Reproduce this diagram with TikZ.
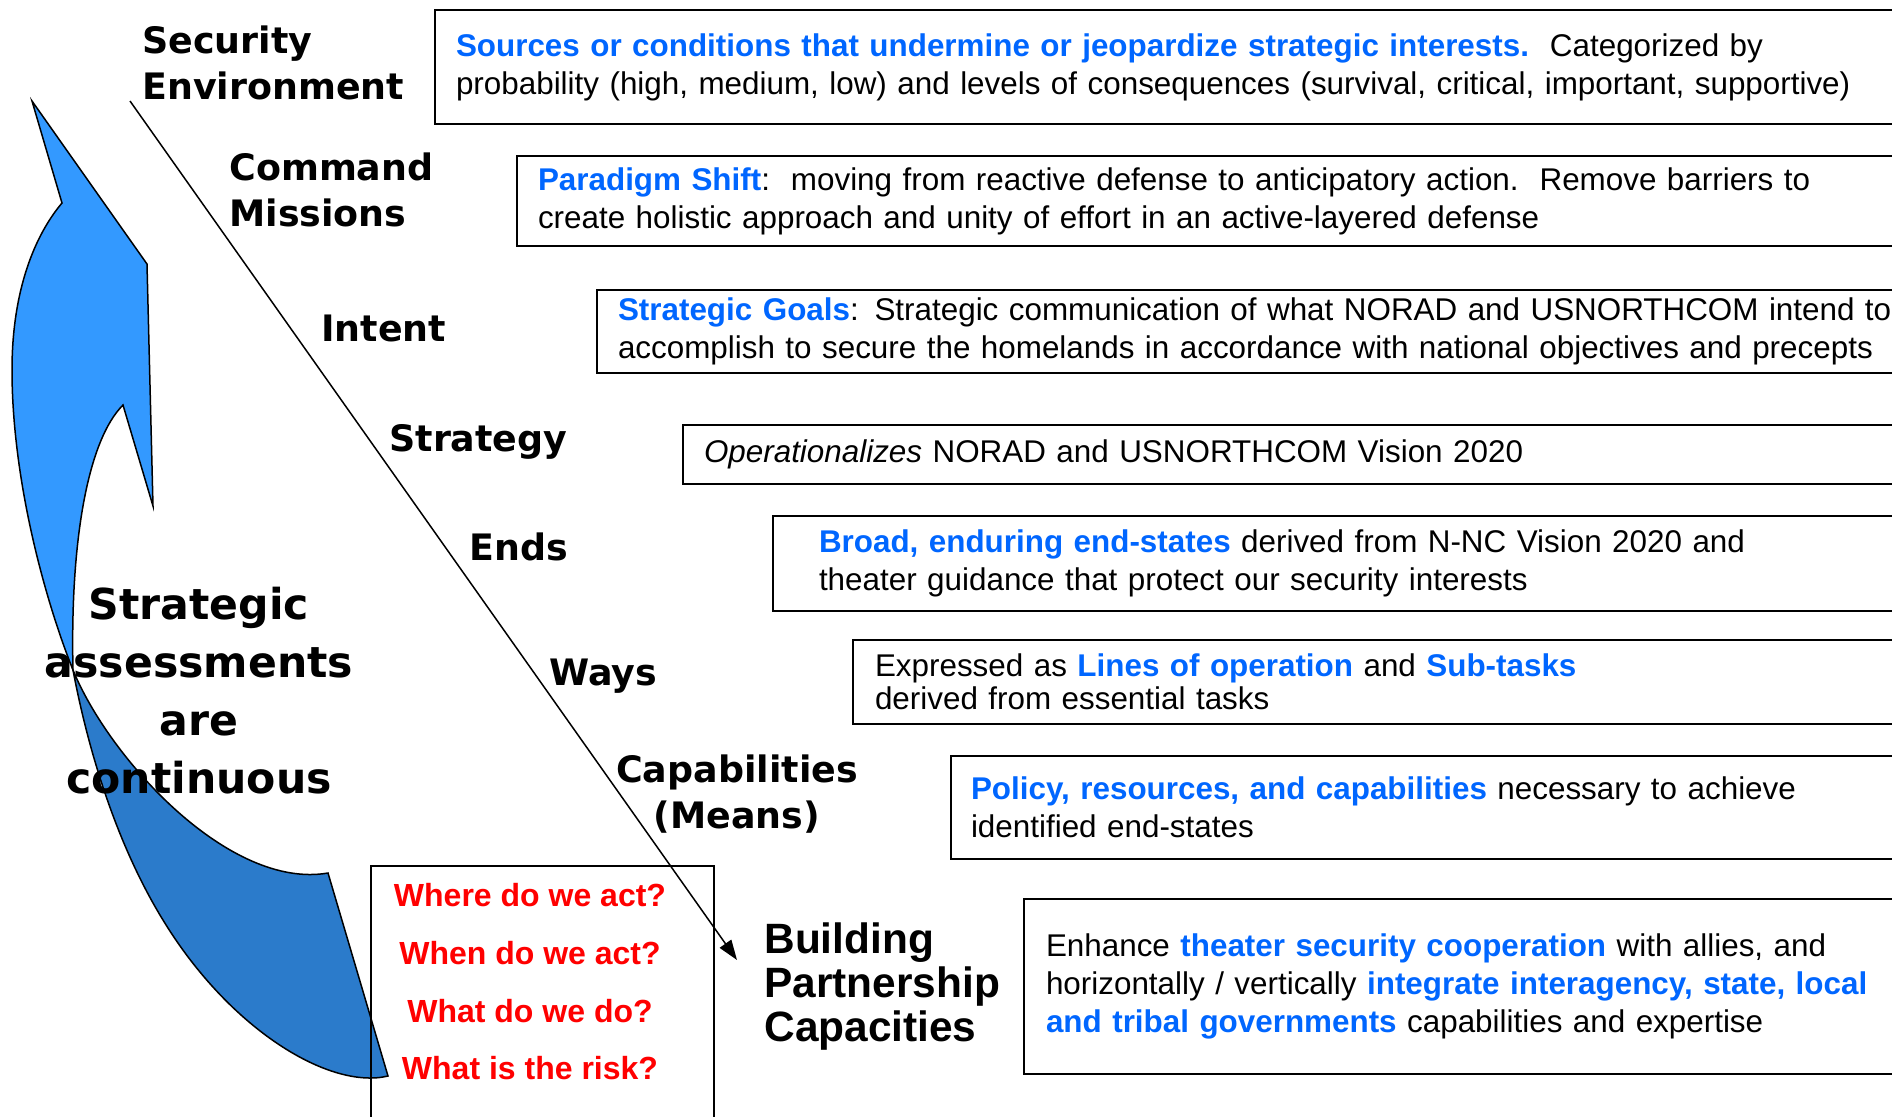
\documentclass[tikz,border=0pt]{standalone}
\usepackage{fontspec}
\setmainfont{Liberation Sans}
\newfontfamily\vfont{DejaVu Sans}
\usepackage{xcolor}
\usetikzlibrary{arrows, arrows.meta}
\definecolor{hiblue}{RGB}{0,102,255}
\definecolor{lightarr}{RGB}{51,153,255}
\definecolor{darkarr}{RGB}{43,123,203}
\newcommand{\blu}[1]{\textbf{\color{hiblue}#1}}
\tikzset{
  descbox/.style={draw, line width=1pt, anchor=north west, align=left, text width=900pt, inner xsep=10.5pt, font=\fontsize{15.7}{19}\selectfont},
  steplabel/.style={anchor=west, align=left, inner sep=0pt, font=\vfont\bfseries\fontsize{18.2}{23}\selectfont},
  question/.style={inner sep=0pt, text=red, font=\bfseries\fontsize{16}{19}\selectfont},
}

\begin{document}
\begin{tikzpicture}[x=0.5pt,y=-0.5pt]
\useasboundingbox (0,0) rectangle (1892,1116);
\clip (0,0) rectangle (1892,1116);
\filldraw[fill=lightarr, line width=0.75pt] (32,101) -- (147,264) -- (153,506) -- (123,405) .. controls (88,440) and (70,540) .. (73,670) .. controls (45,600) and (12,480) .. (12,370) .. controls (12,290) and (35,235) .. (62,203) -- cycle;
\filldraw[fill=darkarr, line width=0.75pt] (73,670) .. controls (110,760) and (230,890) .. (328,873) -- (388,1076) .. controls (330,1090) and (230,1030) .. (163,920) .. controls (120,850) and (90,760) .. (73,670) -- cycle;
\coordinate (diagtop) at (130,101);
\coordinate (diagend) at (737,960);
\draw[line width=0.75pt, -{Triangle[length=10pt, width=7pt]}] (diagtop) -- (diagend);
\node[steplabel] (secenv) at (142,63) {Security\\Environment};
\node[steplabel] (cmdmis) at (229,190) {Command\\Missions};
\node[steplabel] (intent) at (321,328) {Intent};
\node[steplabel] (strategy) at (389,442) {Strategy};
\node[steplabel] (ends) at (469,547) {Ends};
\node[steplabel] (ways) at (549,676) {Ways};
\node[steplabel, anchor=center, align=center] (means) at (737,794) {Capabilities\\(Means)};
\node[anchor=west, align=left, inner sep=0pt, font=\bfseries\fontsize{21.2}{22}\selectfont] (bpc) at (764,987) {Building\\Partnership\\Capacities};
\node[align=center, inner sep=0pt, font=\vfont\bfseries\fontsize{21.3}{29}\selectfont] (assess) at (199,691) {Strategic\\assessments\\are\\continuous};
\node[descbox, minimum height=57pt] (secbox) at (434,9) {\blu{Sources or conditions that undermine or jeopardize strategic interests.}\ \ Categorized by\\probability (high, medium, low) and levels of consequences (survival, critical, important, supportive)};
\node[descbox, minimum height=45pt] (cmdbox) at (516,155) {\blu{Paradigm Shift}:\ \ moving from reactive defense to anticipatory action.\ \ Remove barriers to\\create holistic approach and unity of effort in an active-layered defense};
\node[descbox, minimum height=41.5pt] (intbox) at (596,289) {\blu{Strategic Goals}: Strategic communication of what NORAD and USNORTHCOM intend to\\accomplish to secure the homelands in accordance with national objectives and precepts};
\node[descbox, minimum height=29.5pt] (strbox) at (682,424) {\textit{Operationalizes} NORAD and USNORTHCOM Vision 2020};
\node[descbox, minimum height=47.5pt, inner xsep=23pt] (endbox) at (772,515) {\blu{Broad, enduring end-states} derived from N-NC Vision 2020 and\\theater guidance that protect our security interests};
\node[descbox, minimum height=42pt, inner xsep=11pt, font=\fontsize{15.7}{16.3}\selectfont] (waybox) at (852,639) {Expressed as \blu{Lines of operation} and \blu{Sub-tasks}\\derived from essential tasks};
\node[descbox, minimum height=51.5pt, inner xsep=10pt] (capbox) at (950,755) {\blu{Policy, resources, and capabilities} necessary to achieve\\identified end-states};
\node[descbox, minimum height=87.5pt, inner xsep=11pt] (bpcbox) at (1023,898) {Enhance \blu{theater security cooperation} with allies, and\\horizontally / vertically \blu{integrate interagency, state, local}\\\blu{and tribal governments} capabilities and expertise};
\node[draw, line width=1pt, anchor=north west, minimum width=171.5pt, minimum height=140pt] (qbox) at (370,865) {};
\node[question] (qwhere) at (530,895) {Where do we act?};
\node[question] (qwhen) at (530,953) {When do we act?};
\node[question] (qwhat) at (530,1011) {What do we do?};
\node[question] (qrisk) at (530,1068) {What is the risk?};
\end{tikzpicture}
\end{document}
